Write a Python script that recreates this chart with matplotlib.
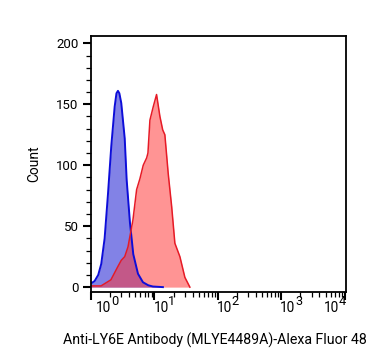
import numpy as np
import matplotlib
matplotlib.use("Agg")
import matplotlib.pyplot as plt
import matplotlib.ticker as ticker
import matplotlib.transforms as mtrans

plt.rcParams['font.family'] = ['Roboto', 'DejaVu Sans']

# isotype / control (blue)
blue_x = [1.0, 1.14, 1.3, 1.45, 1.64, 1.85, 2.09, 2.36, 2.52, 2.66, 2.8, 3.0, 3.4, 3.65, 4.11, 4.64, 5.5, 6.59, 8.0, 9.47, 13.6]
blue_y = [3, 5, 10, 19, 40, 76, 116, 148, 159, 161, 159, 151, 122, 88, 53, 27, 11, 4, 1.5, 0.5, 0]

# antibody stained (red)
red_x = [1.0, 1.44, 2.06, 2.66, 3.0, 3.4, 3.83, 4.58, 5.24, 5.91, 6.66, 7.54, 7.9, 8.49, 9.58, 10.8,
         12.2, 13.5, 14.6, 16.5, 18.7, 21.0, 25.2, 30.2, 36.2]
red_y = [1, 1, 6, 17, 22, 25, 33, 55, 80, 89, 100, 106, 110, 137, 148, 158,
         140, 129, 125, 93, 66, 36, 25, 8, 0]

decades = [0, 1, 2, 3, 4]

fig = plt.figure(figsize=(3.67, 3.64), dpi=100)
ax = fig.add_axes([91/367, 1-292/364, 255/367, 256/364])

ax.fill_between(blue_x, blue_y, color=(0.25, 0.25, 0.85), alpha=0.65, lw=0)
ax.plot(blue_x, blue_y, color=(0.05, 0.05, 0.85), lw=1.4)
ax.fill_between(red_x, red_y, color=(1.0, 0.2, 0.2), alpha=0.52, lw=0)
ax.plot(red_x, red_y, color=(0.9, 0.1, 0.15), lw=1.1)

ax.set_xscale("log")
ax.set_xlim(1, 10**4.02)
ax.set_ylim(-4, 206)
ax.yaxis.set_major_locator(ticker.MultipleLocator(50))
ax.yaxis.set_minor_locator(ticker.MultipleLocator(10))
ax.set_xticks([10.0**d for d in decades])
ax.xaxis.set_minor_locator(ticker.LogLocator(base=10, subs=np.arange(2, 10), numticks=10))
ax.xaxis.set_minor_formatter(ticker.NullFormatter())
ax.set_xticklabels([])

ax.tick_params(which="major", length=6, width=1.5, labelsize=9.5, color="black", pad=3)
ax.tick_params(which="minor", length=3.5, width=0.9)

# decade labels: "10" with a raised exponent, like the cytometry software draws them
px = 1 / fig.dpi  # one pixel in inches
base = mtrans.blended_transform_factory(ax.transData, ax.transAxes)
shift = {0: 5, 1: -1, 2: -1, 3: -1, 4: -21}
for d in decades:
    dx = shift[d]
    ax.text(10.0**d, 0, "10", transform=base + mtrans.ScaledTranslation(dx*px, -9*px, fig.dpi_scale_trans),
            ha="left", va="top", fontsize=9.8, clip_on=False)
    ax.text(10.0**d, 0, str(d), transform=base + mtrans.ScaledTranslation((dx + 15)*px, -3*px, fig.dpi_scale_trans),
            ha="left", va="top", fontsize=9.2, clip_on=False)

for s in ax.spines.values():
    s.set_linewidth(1.3)

ax.set_ylabel("Count", fontsize=10, labelpad=11)
ax.set_xlabel("Anti-LY6E Antibody (MLYE4489A)-Alexa Fluor 488", fontsize=10.2, labelpad=20)

fig.savefig("out.png", dpi=100)
